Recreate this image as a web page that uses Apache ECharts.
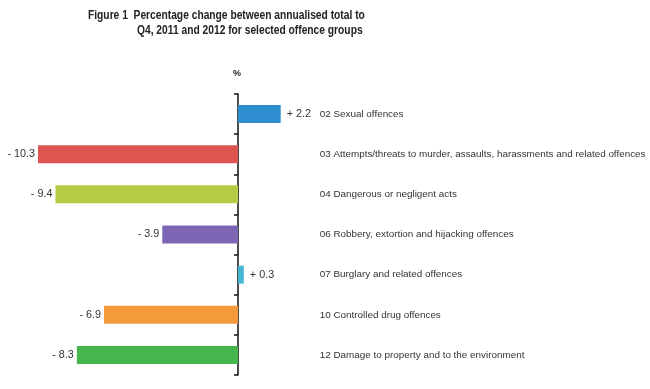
<!DOCTYPE html>
<html><head><meta charset="utf-8">
<script src="https://cdn.jsdelivr.net/npm/echarts@6/dist/echarts.min.js"></script>
<style>html,body{margin:0;padding:0;background:#fff}#c{width:650px;height:389px}</style>
</head><body><div id="c"></div>
<script>
const categories = [
  '02 Sexual offences',
  '03 Attempts/threats to murder, assaults, harassments and related offences',
  '04 Dangerous or negligent acts',
  '06 Robbery, extortion and hijacking offences',
  '07 Burglary and related offences',
  '10 Controlled drug offences',
  '12 Damage to property and to the environment'
];
const values = [2.2, -10.3, -9.4, -3.9, 0.3, -6.9, -8.3];
const colors = ['#2f8ecf', '#dc5551', '#b5cc44', '#7c66b3', '#46b7d3', '#f59a3b', '#45b64b'];
const titleLines = ['Figure 1  Percentage change between annualised total to', 'Q4, 2011 and 2012 for selected offence groups'];

const chart = echarts.init(document.getElementById('c'));
const fam = "'Liberation Sans', Arial, sans-serif";
chart.setOption({
  animation: false,
  backgroundColor: '#fff',
  graphic: [
    {type: 'text', x: 88, y: 9, scaleX: 0.82, style: {text: titleLines[0], font: 'bold 12.5px ' + fam, fill: '#222'}},
    {type: 'text', x: 137, y: 24, scaleX: 0.82, style: {text: titleLines[1], font: 'bold 12.5px ' + fam, fill: '#222'}},
    {type: 'text', left: 233, top: 69, style: {text: '%', font: 'bold 9px ' + fam, fill: '#222'}}
  ],
  grid: {left: 38, top: 94, bottom: 14, width: 14.3 * 200 / 10.3},
  xAxis: {type: 'value', min: -10.3, max: 4, show: false},
  yAxis: [{
    type: 'category', data: categories, inverse: true,
    axisLine: {show: true, onZero: true, lineStyle: {color: '#111', width: 1.5}},
    axisTick: {show: true, length: 4, lineStyle: {color: '#111', width: 1.5}},
    axisLabel: {show: false}
  }, {
    type: 'category', data: categories, inverse: true, position: 'right',
    axisLine: {show: false}, axisTick: {show: false},
    axisLabel: {margin: 4, color: '#333', fontSize: 9.9, fontFamily: fam}
  }],
  series: [{
    type: 'bar', barWidth: 18,
    data: values.map((v, i) => ({
      value: v,
      itemStyle: {color: colors[i]},
      label: {show: true, position: v < 0 ? 'left' : 'right', distance: v < 0 ? 3 : 6}
    })),
    label: {
      color: '#333', fontSize: 10.8, fontFamily: fam,
      formatter: p => (p.value < 0 ? '- ' + Math.abs(p.value).toFixed(1) : '+ ' + p.value.toFixed(1))
    }
  }]
});
</script></body></html>
